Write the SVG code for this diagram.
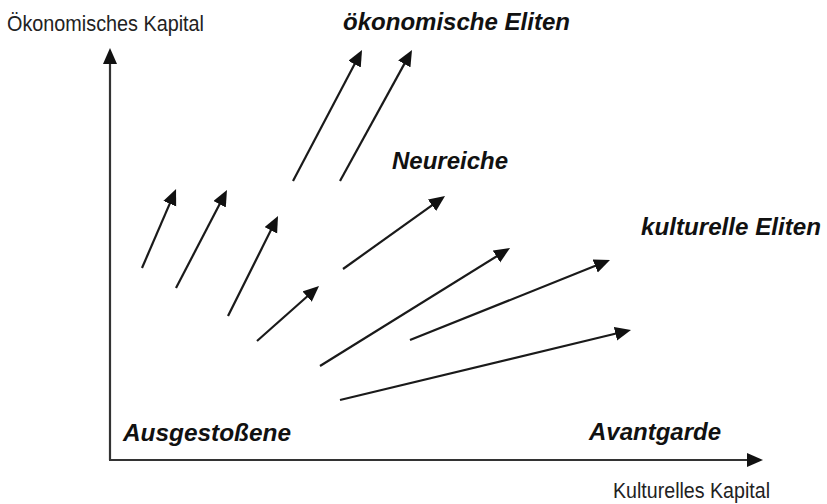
<svg xmlns="http://www.w3.org/2000/svg" width="827" height="504" viewBox="0 0 827 504">
  <style>
    .axis { stroke: #333; stroke-width: 2.2; fill: none; }
    .arr { stroke: #1a1a1a; stroke-width: 2.2; fill: none; }
    .lbl { font-family: "Liberation Sans", Arial, sans-serif; font-weight: bold; font-style: italic; font-size: 24px; fill: #111; }
    .ax { font-family: "Liberation Sans", Arial, sans-serif; font-size: 22px; fill: #222; }
  </style>
  <defs>
    <marker id="ah" markerUnits="userSpaceOnUse" markerWidth="17" markerHeight="15" refX="5" refY="7" orient="auto">
      <path d="M0,0 L16,7 L0,14 z" fill="#111"/>
    </marker>
  </defs>
  <rect width="827" height="504" fill="#fff"/>

  <g id="axes">
    <line class="axis" x1="110" y1="460" x2="110" y2="59" marker-end="url(#ah)"/>
    <line class="axis" x1="109" y1="460" x2="752" y2="460" marker-end="url(#ah)"/>
  </g>

  <g id="connectors">
    <line class="arr" x1="142" y1="268" x2="171.7" y2="199.1" marker-end="url(#ah)"/>
    <line class="arr" x1="176" y1="288" x2="221.9" y2="199.8" marker-end="url(#ah)"/>
    <line class="arr" x1="228" y1="316" x2="273.1" y2="225.8" marker-end="url(#ah)"/>
    <line class="arr" x1="257" y1="341" x2="310.8" y2="293.3" marker-end="url(#ah)"/>
    <line class="arr" x1="293" y1="181" x2="356.9" y2="59.7" marker-end="url(#ah)"/>
    <line class="arr" x1="340" y1="181" x2="406.7" y2="59.6" marker-end="url(#ah)"/>
    <line class="arr" x1="343" y1="269" x2="436.1" y2="202.4" marker-end="url(#ah)"/>
    <line class="arr" x1="320" y1="366" x2="500.7" y2="253.8" marker-end="url(#ah)"/>
    <line class="arr" x1="410" y1="340" x2="599.8" y2="264.1" marker-end="url(#ah)"/>
    <line class="arr" x1="340" y1="400" x2="620.3" y2="332.5" marker-end="url(#ah)"/>
  </g>

  <g id="y-axis-label"><text class="ax" x="7" y="31" textLength="197" lengthAdjust="spacingAndGlyphs">Ökonomisches Kapital</text></g>
  <g id="x-axis-label"><text class="ax" x="613" y="498" textLength="157" lengthAdjust="spacingAndGlyphs">Kulturelles Kapital</text></g>
  <g id="oekonomische-eliten"><text class="lbl" x="343" y="30" textLength="227" lengthAdjust="spacingAndGlyphs">ökonomische Eliten</text></g>
  <g id="neureiche"><text class="lbl" x="392" y="169" textLength="116" lengthAdjust="spacingAndGlyphs">Neureiche</text></g>
  <g id="kulturelle-eliten"><text class="lbl" x="641" y="235" textLength="180" lengthAdjust="spacingAndGlyphs">kulturelle Eliten</text></g>
  <g id="ausgestossene"><text class="lbl" x="123" y="441" textLength="168" lengthAdjust="spacingAndGlyphs">Ausgestoßene</text></g>
  <g id="avantgarde"><text class="lbl" x="589" y="440" textLength="132" lengthAdjust="spacingAndGlyphs">Avantgarde</text></g>
</svg>
